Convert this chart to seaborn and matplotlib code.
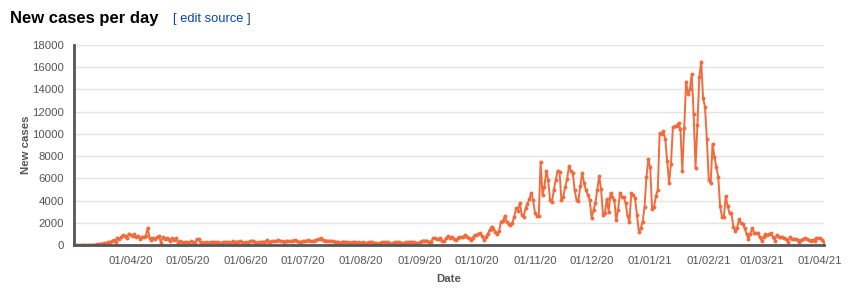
import matplotlib
matplotlib.use("Agg")
import matplotlib.pyplot as plt
import seaborn as sns
import pandas as pd

# ---- data: daily new cases, one list per month ----
mar20 = [2, 0, 2, 3, 1, 8, 9, 9, 11, 18,
         19, 34, 57, 76, 86, 117, 194, 143, 235, 260,
         320, 460, 302, 633, 549, 724, 902, 792, 638, 1035]          # from 2 Mar 2020
apr20 = [900, 850, 950, 700, 850, 550, 750, 700, 820, 1550,
         650, 450, 620, 550, 700, 780, 220, 680, 550, 650,
         550, 400, 620, 450, 600, 200, 380, 260, 200, 300]
may20 = [250, 200, 350, 240, 180, 530, 550, 140, 230, 200,
         230, 190, 230, 260, 290, 230, 260, 200, 190, 250,
         300, 260, 240, 160, 350, 190, 300, 300, 350, 230, 200]
jun20 = [300, 200, 370, 350, 380, 300, 190, 280, 290, 300,
         290, 420, 270, 300, 350, 330, 350, 420, 330, 320,
         300, 350, 350, 330, 370, 400, 450, 330, 260, 310]
jul20 = [330, 320, 380, 410, 330, 330, 400, 450, 500, 550,
         600, 430, 400, 400, 380, 380, 340, 310, 300, 250,
         200, 300, 310, 270, 250, 200, 240, 270, 250, 220, 260]
aug20 = [200, 230, 150, 190, 260, 280, 250, 200, 180, 120,
         170, 240, 280, 250, 230, 190, 120, 210, 230, 270,
         240, 200, 170, 140, 240, 250, 300, 290, 250, 200, 180]
sep20 = [230, 350, 390, 400, 380, 250, 300, 600, 650, 500,
         550, 600, 400, 350, 600, 770, 640, 750, 550, 450,
         600, 700, 700, 750, 900, 720, 650, 430, 650, 900]
oct20 = [900, 1000, 1050, 800, 450, 700, 1000, 1350, 1650, 1400,
         1200, 1000, 1250, 2100, 2150, 2600, 2100, 1900, 1800, 1950,
         2550, 3300, 3100, 3800, 2700, 2550, 3300, 3700, 4100, 4700, 4050]
nov20 = [2900, 2600, 2600, 7500, 4500, 5250, 6700, 5850, 4050, 3850,
         4950, 5850, 6700, 6600, 4050, 4350, 5200, 5900, 7100, 6700,
         6500, 4950, 4050, 4000, 5300, 6500, 5550, 4950, 4500, 4050]
dec20 = [2400, 3150, 3750, 4950, 6200, 5000, 2700, 2850, 4100, 3000,
         4700, 4350, 4050, 2250, 3150, 4700, 4350, 4350, 3750, 2600,
         2100, 4650, 4500, 4200, 2700, 1200, 1500, 2100, 3450, 6100, 7700]
jan21 = [7000, 3250, 3400, 4400, 4950, 10050, 9950, 10250, 9500, 7550,
         5600, 7300, 10600, 10700, 10700, 11000, 10400, 6700, 10500, 14700,
         13550, 14000, 15400, 11750, 6950, 10800, 15100, 16500, 13200, 12450, 9500]
feb21 = [5850, 5550, 9100, 7950, 7000, 6150, 3500, 2550, 2550, 4400,
         3500, 2850, 2850, 1650, 1300, 1550, 2300, 2000, 1900, 1500,
         1000, 550, 1000, 1500, 1100, 1100, 1050, 700]
mar21 = [400, 700, 1000, 900, 950, 1050, 700, 400, 900, 750,
         700, 700, 650, 500, 300, 700, 550, 500, 550, 450,
         300, 450, 550, 600, 500, 450, 400, 450, 400, 600, 650]
apr21 = [600, 450, 250]

month_starts = ["2020-03-02", "2020-04-01", "2020-05-01", "2020-06-01", "2020-07-01",
                "2020-08-01", "2020-09-01", "2020-10-01", "2020-11-01", "2020-12-01",
                "2021-01-01", "2021-02-01", "2021-03-01", "2021-04-01"]
month_values = [mar20, apr20, may20, jun20, jul20, aug20, sep20, oct20,
                nov20, dec20, jan21, feb21, mar21, apr21]

tick_dates = ["2020-04-01", "2020-05-01", "2020-06-01", "2020-07-01", "2020-08-01",
              "2020-09-01", "2020-10-01", "2020-11-01", "2020-12-01", "2021-01-01",
              "2021-02-01", "2021-03-01", "2021-04-01"]
tick_labels = ["01/04/20", "01/05/20", "01/06/20", "01/07/20", "01/08/20", "01/09/20",
               "01/10/20", "01/11/20", "01/12/20", "01/01/21", "01/02/21", "01/03/21",
               "01/04/21"]
y_ticks = [0, 2000, 4000, 6000, 8000, 10000, 12000, 14000, 16000, 18000]

frames = []
for start, vals in zip(month_starts, month_values):
    frames.append(pd.DataFrame({"date": pd.date_range(start, periods=len(vals), freq="D"),
                                "cases": vals}))
df = pd.concat(frames, ignore_index=True)

# ---- style ----
sns.set_style("white")
plt.rcParams['font.family'] = ['Liberation Sans', 'DejaVu Sans']

axis_gray = '#555555'
line_color = '#f26b3d'

fig = plt.figure(figsize=(8.59, 2.96), dpi=100)
ax = fig.add_axes([74 / 859, 51 / 296, 750 / 859, 200 / 296])

sns.lineplot(data=df, x="date", y="cases", ax=ax, color=line_color, linewidth=1.4,
             marker="o", markersize=2.8, markeredgewidth=0,
             markerfacecolor=line_color)

ax.set_ylim(0, 18000)
ax.set_yticks(y_ticks)
ax.set_yticklabels([str(v) for v in y_ticks])
ax.set_xlim(df["date"].iloc[0], df["date"].iloc[-1])
ax.set_xticks(pd.to_datetime(tick_dates))
ax.set_xticklabels(tick_labels)

ax.grid(axis='y', color='#e4e4e4', linewidth=1)
ax.grid(axis='x', visible=False)
ax.set_axisbelow(True)

for s in ['top', 'right']:
    ax.spines[s].set_visible(False)
for s in ['left', 'bottom']:
    ax.spines[s].set_color(axis_gray)
    ax.spines[s].set_linewidth(2)

ax.tick_params(axis='both', direction='out', length=5, width=1, color=axis_gray,
               labelsize=8.2, labelcolor=axis_gray)
ax.tick_params(axis='y', pad=2)
ax.tick_params(axis='x', pad=3)

ax.set_xlabel("Date", fontweight='bold', fontsize=8.2, color=axis_gray, labelpad=6)
ax.set_ylabel("New cases", fontweight='bold', fontsize=8.2, color=axis_gray, labelpad=1)

fig.text(10 / 859, 1 - 18 / 296, "New cases per day", fontsize=12, fontweight='bold',
         color='black', va='center', ha='left')
fig.text(173 / 859, 1 - 19 / 296, "[ edit source ]", fontsize=9.3, color='#0645ad',
         va='center', ha='left')

fig.savefig("out.png", dpi=100)
